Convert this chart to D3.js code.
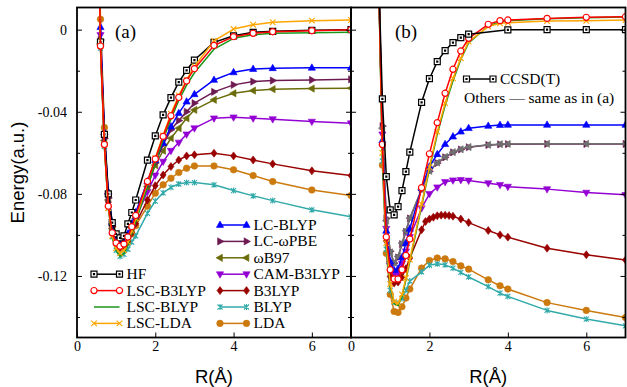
<!DOCTYPE html>
<html>
<head>
<meta charset="utf-8">
<script src="https://cdn.jsdelivr.net/npm/d3@7"></script>
<style>
  body { margin: 0; background: #fff; }
  svg { display: block; }
</style>
</head>
<body>
<svg id="chart"></svg>
<script>
// ---- data: bond distance R (Å) and energies (a.u.) ----
// panel (a)
const rA = [0.5, 0.6, 0.7, 0.8, 0.9, 1.0, 1.1, 1.2, 1.3, 1.4, 1.5, 1.8, 2.0, 2.2, 2.4, 2.6, 2.8, 3.0, 3.5, 4.0, 4.5, 5.0, 6.0, 7.0];
const hfA       = [0.1, -0.006, -0.051, -0.080, -0.094, -0.0995, -0.1015, -0.1005, -0.0946, -0.0891, -0.083, -0.0636, -0.0518, -0.0415, -0.0331, -0.0256, -0.0198, -0.0148, -0.0062, -0.003, -0.0013, -0.0008, -0.0003, 0];
const lscB3lypA = [0.1, -0.008, -0.056, -0.086, -0.099, -0.104, -0.1055, -0.1045, -0.101, -0.096, -0.0905, -0.074, -0.063, -0.052, -0.042, -0.033, -0.025, -0.019, -0.0077, -0.0034, -0.0018, -0.001, -0.0005, 0];
const lscBlypA  = [0.1, -0.009, -0.057, -0.087, -0.101, -0.1075, -0.1105, -0.109, -0.105, -0.0995, -0.0935, -0.0765, -0.065, -0.0535, -0.0435, -0.0345, -0.027, -0.021, -0.0095, -0.0042, -0.0025, -0.0018, -0.0015, -0.0013];
const lscLdaA   = [0.1, -0.008, -0.056, -0.087, -0.1005, -0.1065, -0.109, -0.1075, -0.1035, -0.098, -0.092, -0.0745, -0.0625, -0.0515, -0.041, -0.032, -0.0245, -0.0178, -0.0055, 0.0003, 0.0024, 0.0036, 0.0044, 0.0047];
const lcBlypA   = [0.1, 0.0012, -0.050, -0.079, -0.094, -0.1005, -0.1035, -0.103, -0.0995, -0.0945, -0.089, -0.074, -0.0635, -0.0553, -0.0472, -0.0407, -0.0351, -0.0315, -0.0245, -0.0208, -0.0192, -0.0188, -0.0186, -0.0185];
const lcWpbeA   = [0.1, -0.005, -0.053, -0.082, -0.096, -0.102, -0.104, -0.1035, -0.1005, -0.096, -0.0915, -0.076, -0.065, -0.056, -0.0488, -0.0443, -0.040, -0.0358, -0.0303, -0.0269, -0.0253, -0.0248, -0.0245, -0.0242];
const wb97A     = [0.1, -0.007, -0.054, -0.083, -0.097, -0.1025, -0.1045, -0.104, -0.101, -0.0965, -0.092, -0.0765, -0.066, -0.059, -0.0529, -0.048, -0.0432, -0.0391, -0.0342, -0.031, -0.0297, -0.029, -0.0287, -0.0285];
const camA      = [0.1, -0.0026, -0.052, -0.081, -0.0955, -0.1015, -0.104, -0.1035, -0.1005, -0.0965, -0.092, -0.079, -0.071, -0.0643, -0.059, -0.055, -0.051, -0.048, -0.0432, -0.0427, -0.0432, -0.0436, -0.0448, -0.0456];
const b3lypA    = [0.1, -0.0075, -0.055, -0.084, -0.098, -0.104, -0.106, -0.1055, -0.103, -0.099, -0.0945, -0.083, -0.076, -0.0708, -0.0667, -0.0635, -0.0615, -0.061, -0.0602, -0.0615, -0.0635, -0.0654, -0.0688, -0.0711];
const blypA     = [0.1, -0.009, -0.057, -0.087, -0.101, -0.1075, -0.1105, -0.1095, -0.107, -0.1035, -0.1005, -0.0895, -0.0835, -0.0795, -0.0768, -0.0752, -0.0745, -0.0745, -0.0756, -0.0784, -0.081, -0.0833, -0.0878, -0.0912];
const ldaA      = [0.1, 0.0051, -0.0477, -0.080, -0.096, -0.103, -0.1065, -0.106, -0.1035, -0.0995, -0.0955, -0.086, -0.0797, -0.0756, -0.0724, -0.0696, -0.0675, -0.0664, -0.0664, -0.0683, -0.0711, -0.074, -0.0781, -0.0808];

// panel (b)
const rB = [0.7, 0.8, 0.9, 1.0, 1.1, 1.2, 1.3, 1.4, 1.5, 1.8, 2.0, 2.2, 2.4, 2.6, 2.8, 3.0, 3.5, 3.8, 4.0, 5.0, 6.0, 7.0];
const rB3 = [0.7, 0.8, 0.9, 1.0, 1.1, 1.2, 1.3, 1.4, 1.5, 1.8, 1.9, 2.0, 2.1, 2.2, 2.3, 2.4, 2.5, 2.6, 2.8, 3.0, 3.5, 3.8, 4.0, 5.0, 6.0, 7.0];
const rCC = [0.7, 0.8, 0.9, 1.0, 1.1, 1.2, 1.3, 1.4, 1.5, 1.8, 2.0, 2.2, 2.4, 2.6, 2.8, 3.0, 4.0, 5.0, 6.0, 7.0];
const ccsdB     = [0.03, -0.0337, -0.0716, -0.0878, -0.0902, -0.0862, -0.0784, -0.0692, -0.0597, -0.0354, -0.0239, -0.0156, -0.0102, -0.0063, -0.0039, -0.0022, -0.0001, 0, 0, 0];
const lscB3lypB = [0.03, -0.056, -0.101, -0.117, -0.1215, -0.1215, -0.117, -0.110, -0.102, -0.077, -0.0605, -0.0453, -0.031, -0.0193, -0.0104, -0.0042, 0.0026, 0.0044, 0.0047, 0.0055, 0.006, 0.0063];
const lscBlypB  = [0.03, -0.061, -0.105, -0.125, -0.1335, -0.1345, -0.130, -0.122, -0.113, -0.086, -0.068, -0.051, -0.037, -0.025, -0.0145, -0.0065, 0.0018, 0.0037, 0.0044, 0.0053, 0.0058, 0.0062];
const lscLdaB   = [0.03, -0.060, -0.104, -0.124, -0.1325, -0.1333, -0.129, -0.121, -0.112, -0.085, -0.067, -0.0497, -0.0358, -0.0237, -0.0139, -0.0058, 0.0015, 0.0031, 0.0034, 0.0042, 0.0043, 0.0047];
const lcBlypB   = [0.03, -0.054, -0.098, -0.113, -0.1172, -0.1165, -0.111, -0.104, -0.097, -0.0772, -0.0667, -0.0607, -0.0558, -0.0521, -0.0497, -0.048, -0.0469, -0.0465, -0.0464, -0.0464, -0.0464, -0.0464];
const lcWpbeB   = [0.03, -0.047, -0.092, -0.108, -0.1138, -0.111, -0.1045, -0.0985, -0.092, -0.078, -0.069, -0.065, -0.0622, -0.0598, -0.0584, -0.0573, -0.0562, -0.0559, -0.0558, -0.0557, -0.0557, -0.0557];
const wb97B     = [0.03, -0.048, -0.093, -0.1085, -0.1135, -0.1105, -0.104, -0.098, -0.0918, -0.0778, -0.0688, -0.0648, -0.062, -0.0597, -0.0583, -0.0572, -0.0561, -0.0558, -0.0557, -0.0556, -0.0556, -0.0556];
const camB      = [0.03, -0.051, -0.097, -0.114, -0.1192, -0.119, -0.114, -0.108, -0.101, -0.087, -0.080, -0.0768, -0.0742, -0.0734, -0.0732, -0.0735, -0.0748, -0.0756, -0.0765, -0.0777, -0.0794, -0.0805];
const b3lypB    = [0.03, -0.056, -0.103, -0.1203, -0.1235, -0.123, -0.1205, -0.1165, -0.1113, -0.0975, -0.0935, -0.0923, -0.0914, -0.0907, -0.0904, -0.0904, -0.0906, -0.0909, -0.0923, -0.094, -0.0979, -0.1, -0.1011, -0.1065, -0.1097, -0.1122];
const blypB     = [0.03, -0.064, -0.107, -0.127, -0.1328, -0.1332, -0.131, -0.127, -0.1225, -0.118, -0.1148, -0.1141, -0.1146, -0.1162, -0.1183, -0.1205, -0.1252, -0.1284, -0.13, -0.1368, -0.141, -0.1443];
const ldaB      = [0.03, -0.066, -0.109, -0.129, -0.1373, -0.1378, -0.135, -0.1308, -0.1264, -0.1162, -0.1125, -0.1113, -0.1117, -0.113, -0.1151, -0.1167, -0.1219, -0.1248, -0.1264, -0.133, -0.1368, -0.1403];

// ticks and legend text
const yTicks = [0, -0.04, -0.08, -0.12];
const yTickLabels = ["0", "-0.04", "-0.08", "-0.12"];
const yMinorTicks = [-0.02, -0.06, -0.10, -0.14];
const xTicks = [0, 2, 4, 6];
const xTickLabels = ["0", "2", "4", "6"];
const legendLeft = ["HF", "LSC-B3LYP", "LSC-BLYP", "LSC-LDA"];
const legendRight = ["LC-BLYP", "LC-ωPBE", "ωB97", "CAM-B3LYP", "B3LYP", "BLYP", "LDA"];

// ---- style per method ----
const styles = {
  "HF":        { color: "#000000", marker: "square" },
  "CCSD(T)":   { color: "#000000", marker: "square" },
  "LSC-B3LYP": { color: "#ff0000", marker: "circleOpen" },
  "LSC-BLYP":  { color: "#1a961a", marker: null },
  "LSC-LDA":   { color: "#ffa500", marker: "cross" },
  "LC-BLYP":   { color: "#0000ff", marker: "triUp" },
  "LC-ωPBE":   { color: "#6e1a52", marker: "triRight" },
  "ωB97":      { color: "#6b6b0a", marker: "triLeft" },
  "CAM-B3LYP": { color: "#9400d3", marker: "triDown" },
  "B3LYP":     { color: "#990000", marker: "diamond" },
  "BLYP":      { color: "#33aaaa", marker: "star" },
  "LDA":       { color: "#cc7a0e", marker: "circle" }
};

// draw order (bottom first)
const seriesA = [
  { name: "LDA", r: rA, v: ldaA },
  { name: "BLYP", r: rA, v: blypA },
  { name: "B3LYP", r: rA, v: b3lypA },
  { name: "CAM-B3LYP", r: rA, v: camA },
  { name: "ωB97", r: rA, v: wb97A },
  { name: "LC-ωPBE", r: rA, v: lcWpbeA },
  { name: "LC-BLYP", r: rA, v: lcBlypA },
  { name: "HF", r: rA, v: hfA },
  { name: "LSC-BLYP", r: rA, v: lscBlypA },
  { name: "LSC-LDA", r: rA, v: lscLdaA },
  { name: "LSC-B3LYP", r: rA, v: lscB3lypA }
];
const seriesB = [
  { name: "LDA", r: rB, v: ldaB },
  { name: "BLYP", r: rB, v: blypB },
  { name: "B3LYP", r: rB3, v: b3lypB },
  { name: "CAM-B3LYP", r: rB, v: camB },
  { name: "LC-ωPBE", r: rB, v: lcWpbeB },
  { name: "ωB97", r: rB, v: wb97B, color: "#707070" },
  { name: "LC-BLYP", r: rB, v: lcBlypB },
  { name: "LSC-BLYP", r: rB, v: lscBlypB },
  { name: "LSC-LDA", r: rB, v: lscLdaB },
  { name: "LSC-B3LYP", r: rB, v: lscB3lypB },
  { name: "CCSD(T)", r: rCC, v: ccsdB }
];

// ---- layout ----
const width = 627, height = 387;
const plotTop = 7.5, plotBottom = 337.5;
const panelA = { x0: 77, x1: 351 };
const panelB = { x0: 351, x1: 625.5 };
const serif = "'Liberation Serif', 'Times New Roman', serif";
const sans = "'Liberation Sans', Arial, sans-serif";

const svg = d3.select("#chart").attr("width", width).attr("height", height);

const y = d3.scaleLinear().domain([-0.15, 0.0108]).range([plotBottom, plotTop]);
const xA = d3.scaleLinear().domain([0, 7]).range([panelA.x0, panelA.x1]);
const xB = d3.scaleLinear().domain([0, 7]).range([panelB.x0, panelB.x1]);

function markerPath(type) {
  switch (type) {
    case "square": return "M-3,-3h6v6h-6z M-0.5,-0.5h1v1h-1z";
    case "circleOpen": return d3.symbol(d3.symbolCircle, 30)();
    case "circle": return d3.symbol(d3.symbolCircle, 34)();
    case "triUp": return "M0,-4L3.6,2.4L-3.6,2.4Z";
    case "triDown": return "M0,4L3.6,-2.4L-3.6,-2.4Z";
    case "triRight": return "M4,0L-2.4,3.6L-2.4,-3.6Z";
    case "triLeft": return "M-4,0L2.4,3.6L2.4,-3.6Z";
    case "diamond": return "M0,-4L3,0L0,4L-3,0Z";
    case "cross": return "M-2.8,-2.8L2.8,2.8M-2.8,2.8L2.8,-2.8";
    case "star": return "M-2.5,-2.5L2.5,2.5M-2.5,2.5L2.5,-2.5M0,-3V3";
  }
  return "";
}

function styleMarker(sel, type, color) {
  if (type === "square" || type === "circleOpen") {
    sel.attr("fill", "#fff").attr("stroke", color).attr("stroke-width", 1.2);
  } else if (type === "cross" || type === "star") {
    sel.attr("fill", "none").attr("stroke", color).attr("stroke-width", 1.1);
  } else {
    sel.attr("fill", color).attr("stroke", color).attr("stroke-width", 0.6);
  }
}

// clip regions
const defs = svg.append("defs");
[["clipA", panelA], ["clipB", panelB]].forEach(([id, p]) => {
  defs.append("clipPath").attr("id", id)
    .append("rect")
    .attr("x", p.x0).attr("y", plotTop)
    .attr("width", p.x1 - p.x0).attr("height", plotBottom - plotTop);
});

function drawSeries(list, x, clipId) {
  const g = svg.append("g").attr("clip-path", `url(#${clipId})`);
  list.forEach(s => {
    const st = styles[s.name];
    const color = s.color || st.color;
    const pts = s.r.map((r, i) => [r, s.v[i]]);
    const line = d3.line().x(d => x(d[0])).y(d => y(d[1]));
    g.append("path")
      .datum(pts)
      .attr("d", line)
      .attr("fill", "none")
      .attr("stroke", color)
      .attr("stroke-width", 1.5)
      .attr("stroke-linejoin", "round");
    if (st.marker) {
      const m = g.append("g").selectAll("path")
        .data(pts)
        .join("path")
        .attr("transform", d => `translate(${x(d[0])},${y(d[1])})`)
        .attr("d", markerPath(st.marker));
      styleMarker(m, st.marker, color);
    }
  });
}

drawSeries(seriesA, xA, "clipA");
drawSeries(seriesB, xB, "clipB");

// ---- axes ----
function styleAxis(g) {
  g.select(".domain").remove();
  g.selectAll("line").attr("stroke", "#000").attr("stroke-width", 1);
  g.selectAll("text").attr("font-family", serif).attr("font-size", 14).attr("fill", "#000");
}

// left y axis of (a)
svg.append("g")
  .attr("transform", `translate(${panelA.x0},0)`)
  .call(d3.axisLeft(y).tickValues(yTicks).tickFormat((d, i) => yTickLabels[i]).tickSize(-5).tickPadding(10))
  .call(styleAxis);
svg.append("g")
  .attr("transform", `translate(${panelA.x0},0)`)
  .call(d3.axisLeft(y).tickValues(yMinorTicks).tickFormat("").tickSize(-3))
  .call(styleAxis);

// mirrored y ticks on the inner borders
[[panelA.x1, d3.axisRight], [panelB.x0, d3.axisLeft], [panelB.x1, d3.axisRight]].forEach(([xp, ax]) => {
  svg.append("g").attr("transform", `translate(${xp},0)`)
    .call(ax(y).tickValues(yTicks).tickFormat("").tickSize(-5)).call(styleAxis);
  svg.append("g").attr("transform", `translate(${xp},0)`)
    .call(ax(y).tickValues(yMinorTicks).tickFormat("").tickSize(-3)).call(styleAxis);
});

// bottom x axes
[xA, xB].forEach(x => {
  svg.append("g")
    .attr("transform", `translate(0,${plotBottom})`)
    .call(d3.axisBottom(x).tickValues(xTicks).tickFormat((d, i) => xTickLabels[i]).tickSize(-5).tickPadding(4))
    .call(styleAxis);
});

// frames
[panelA, panelB].forEach(p => {
  svg.append("rect")
    .attr("x", p.x0).attr("y", plotTop)
    .attr("width", p.x1 - p.x0).attr("height", plotBottom - plotTop)
    .attr("fill", "none").attr("stroke", "#000").attr("stroke-width", 1.8);
});

// axis titles
svg.append("text")
  .attr("transform", `translate(23.5,${(plotTop + plotBottom) / 2}) rotate(-90)`)
  .attr("text-anchor", "middle")
  .attr("font-family", sans).attr("font-size", 18.5)
  .text("Energy(a.u.)");
[panelA, panelB].forEach(p => {
  svg.append("text")
    .attr("x", (p.x0 + p.x1) / 2).attr("y", 383)
    .attr("text-anchor", "middle")
    .attr("font-family", sans).attr("font-size", 18.5)
    .text("R(Å)");
});

// panel labels
svg.append("text").attr("x", 115).attr("y", 38)
  .attr("font-family", serif).attr("font-size", 19).text("(a)");
svg.append("text").attr("x", 395).attr("y", 38)
  .attr("font-family", serif).attr("font-size", 19).text("(b)");

// ---- legends ----
function legendEntry(name, x1, x2, yc) {
  const st = styles[name];
  svg.append("line")
    .attr("x1", x1).attr("x2", x2).attr("y1", yc).attr("y2", yc)
    .attr("stroke", st.color).attr("stroke-width", 1.5);
  if (st.marker) {
    [x1, x2].forEach(xm => {
      const m = svg.append("path")
        .attr("transform", `translate(${xm},${yc})`)
        .attr("d", markerPath(st.marker));
      styleMarker(m, st.marker, st.color);
    });
  }
  svg.append("text")
    .attr("x", x2 + 7).attr("y", yc + 5)
    .attr("font-family", serif).attr("font-size", 15.5)
    .text(name);
}

const rowY0 = 225, rowStep = 16.4;
legendRight.forEach((n, i) => legendEntry(n, 220, 246.5, rowY0 + i * rowStep));
legendLeft.forEach((n, i) => legendEntry(n, 94, 119.5, rowY0 + (i + 3) * rowStep));

legendEntry("CCSD(T)", 466.5, 493, 79);
svg.append("text")
  .attr("x", 464).attr("y", 103)
  .attr("font-family", serif).attr("font-size", 15.5)
  .text("Others — same as in (a)");
</script>
</body>
</html>
